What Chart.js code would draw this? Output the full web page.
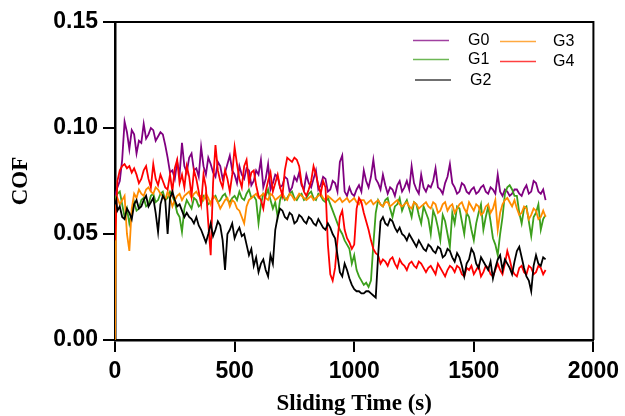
<!DOCTYPE html>
<html>
<head>
<meta charset="utf-8">
<script src="https://cdn.jsdelivr.net/npm/chart.js@4.4.1/dist/chart.umd.min.js"></script>
<style>
  html, body { margin: 0; padding: 0; background: #fff; }
  #c { display: block; }
</style>
</head>
<body>
<canvas id="c" width="625" height="416"></canvas>
<script>
const seriesNames = ['G0', 'G1', 'G2', 'G3', 'G4'];
const xTicks = [0, 500, 1000, 1500, 2000];
const yTicks = [0.00, 0.05, 0.10, 0.15];

const times = [0, 5,
  10, 20, 30, 40, 50, 60, 70, 80, 90, 100, 110, 120, 130, 140, 150, 160, 170, 180, 190, 200,
  210, 220, 230, 240, 250, 260, 270, 280, 290, 300, 310, 320, 330, 340, 350, 360, 370, 380, 390, 400,
  410, 420, 430, 440, 450, 460, 470, 480, 490, 500, 510, 520, 530, 540, 550, 560, 570, 580, 590, 600,
  610, 620, 630, 640, 650, 660, 670, 680, 690, 700, 710, 720, 730, 740, 750, 760, 770, 780, 790, 800,
  810, 820, 830, 840, 850, 860, 870, 880, 890, 900, 910, 920, 930, 940, 950, 960, 970, 980, 990, 1000,
  1010, 1020, 1030, 1040, 1050, 1060, 1070, 1080, 1090, 1100, 1110, 1120, 1130, 1140, 1150, 1160, 1170, 1180, 1190, 1200,
  1210, 1220, 1230, 1240, 1250, 1260, 1270, 1280, 1290, 1300, 1310, 1320, 1330, 1340, 1350, 1360, 1370, 1380, 1390, 1400,
  1410, 1420, 1430, 1440, 1450, 1460, 1470, 1480, 1490, 1500, 1510, 1520, 1530, 1540, 1550, 1560, 1570, 1580, 1590, 1600,
  1610, 1620, 1630, 1640, 1650, 1660, 1670, 1680, 1690, 1700, 1710, 1720, 1730, 1740, 1750, 1760, 1770, 1780, 1790, 1800];

const g0 = [0.066, 0.070,
  0.072, 0.075, 0.085, 0.103, 0.098, 0.090, 0.099, 0.097, 0.088, 0.094, 0.093, 0.102, 0.095, 0.097, 0.100, 0.099, 0.094, 0.096, 0.098, 0.097,
  0.092, 0.086, 0.079, 0.080, 0.076, 0.084, 0.078, 0.093, 0.082, 0.079, 0.086, 0.088, 0.080, 0.081, 0.077, 0.091, 0.082, 0.078, 0.086, 0.083,
  0.079, 0.077, 0.084, 0.082, 0.076, 0.079, 0.083, 0.087, 0.080, 0.078, 0.074, 0.082, 0.078, 0.076, 0.081, 0.080, 0.073, 0.075, 0.080, 0.078,
  0.085, 0.072, 0.076, 0.083, 0.071, 0.074, 0.078, 0.077, 0.072, 0.073, 0.077, 0.076, 0.070, 0.072, 0.077, 0.075, 0.079, 0.073, 0.071, 0.078,
  0.074, 0.072, 0.076, 0.080, 0.071, 0.073, 0.077, 0.076, 0.070, 0.071, 0.075, 0.074, 0.070, 0.084, 0.087, 0.070, 0.068, 0.072, 0.069, 0.068,
  0.071, 0.073, 0.070, 0.080, 0.075, 0.072, 0.077, 0.085, 0.076, 0.074, 0.071, 0.078, 0.073, 0.069, 0.072, 0.071, 0.068, 0.073, 0.075, 0.070,
  0.072, 0.075, 0.071, 0.082, 0.074, 0.071, 0.069, 0.078, 0.072, 0.070, 0.073, 0.072, 0.075, 0.081, 0.072, 0.071, 0.069, 0.074, 0.077, 0.083,
  0.074, 0.072, 0.069, 0.070, 0.074, 0.073, 0.070, 0.069, 0.071, 0.072, 0.069, 0.070, 0.072, 0.073, 0.070, 0.069, 0.072, 0.071, 0.069, 0.078,
  0.070, 0.068, 0.071, 0.070, 0.068, 0.069, 0.071, 0.071, 0.069, 0.068, 0.071, 0.073, 0.069, 0.070, 0.075, 0.074, 0.070, 0.069, 0.071, 0.066];

const g1 = [0.066, 0.068,
  0.069, 0.070, 0.064, 0.058, 0.062, 0.055, 0.060, 0.065, 0.061, 0.062, 0.066, 0.067, 0.063, 0.064, 0.068, 0.069, 0.065, 0.066, 0.069, 0.070,
  0.066, 0.067, 0.070, 0.068, 0.065, 0.060, 0.058, 0.051, 0.062, 0.066, 0.064, 0.062, 0.067, 0.066, 0.063, 0.064, 0.068, 0.067, 0.064, 0.065,
  0.067, 0.068, 0.065, 0.066, 0.068, 0.069, 0.066, 0.065, 0.067, 0.068, 0.066, 0.070, 0.067, 0.066, 0.069, 0.071, 0.067, 0.068, 0.066, 0.055,
  0.064, 0.069, 0.068, 0.071, 0.066, 0.062, 0.065, 0.058, 0.066, 0.069, 0.066, 0.067, 0.069, 0.070, 0.067, 0.066, 0.068, 0.069, 0.066, 0.067,
  0.069, 0.070, 0.067, 0.066, 0.069, 0.068, 0.066, 0.065, 0.067, 0.064, 0.061, 0.058, 0.055, 0.052, 0.050, 0.047, 0.045, 0.043, 0.036, 0.040,
  0.033, 0.030, 0.028, 0.026, 0.027, 0.025, 0.028, 0.045, 0.060, 0.066, 0.064, 0.063, 0.066, 0.067, 0.062, 0.058, 0.063, 0.064, 0.067, 0.061,
  0.064, 0.066, 0.062, 0.058, 0.065, 0.064, 0.059, 0.055, 0.063, 0.060, 0.057, 0.050, 0.061, 0.058, 0.053, 0.047, 0.059, 0.056, 0.050, 0.044,
  0.060, 0.055, 0.063, 0.062, 0.056, 0.050, 0.060, 0.058, 0.052, 0.047, 0.055, 0.060, 0.064, 0.052, 0.058, 0.063, 0.056, 0.048, 0.045, 0.040,
  0.050, 0.058, 0.069, 0.072, 0.073, 0.071, 0.068, 0.068, 0.060, 0.055, 0.062, 0.063, 0.056, 0.049, 0.058, 0.060, 0.064, 0.052, 0.057, 0.059];

const g2 = [0.064, 0.066,
  0.061, 0.063, 0.058, 0.057, 0.062, 0.060, 0.057, 0.064, 0.066, 0.062, 0.063, 0.066, 0.068, 0.063, 0.065, 0.067, 0.060, 0.051, 0.064, 0.068,
  0.066, 0.050, 0.067, 0.070, 0.066, 0.063, 0.064, 0.061, 0.058, 0.060, 0.058, 0.057, 0.055, 0.058, 0.054, 0.052, 0.049, 0.046, 0.050, 0.055,
  0.049, 0.052, 0.056, 0.054, 0.047, 0.033, 0.050, 0.052, 0.055, 0.048, 0.051, 0.053, 0.049, 0.050, 0.045, 0.040, 0.043, 0.035, 0.039, 0.032,
  0.036, 0.038, 0.033, 0.030, 0.040, 0.036, 0.052, 0.058, 0.062, 0.061, 0.058, 0.057, 0.060, 0.059, 0.055, 0.056, 0.059, 0.058, 0.056, 0.055,
  0.058, 0.057, 0.055, 0.054, 0.057, 0.055, 0.053, 0.052, 0.055, 0.053, 0.050, 0.048, 0.040, 0.032, 0.030, 0.036, 0.033, 0.029, 0.026, 0.024,
  0.023, 0.023, 0.022, 0.022, 0.023, 0.023, 0.022, 0.021, 0.020, 0.040, 0.056, 0.058, 0.055, 0.054, 0.057, 0.056, 0.053, 0.051, 0.053, 0.050,
  0.049, 0.047, 0.050, 0.048, 0.046, 0.044, 0.047, 0.045, 0.043, 0.042, 0.045, 0.044, 0.042, 0.041, 0.044, 0.043, 0.039, 0.040, 0.043, 0.042,
  0.039, 0.037, 0.041, 0.039, 0.035, 0.030, 0.036, 0.038, 0.043, 0.041, 0.036, 0.034, 0.039, 0.037, 0.035, 0.033, 0.037, 0.029, 0.034, 0.038,
  0.040, 0.033, 0.038, 0.036, 0.034, 0.031, 0.037, 0.042, 0.044, 0.039, 0.034, 0.030, 0.028, 0.023, 0.035, 0.040, 0.036, 0.035, 0.039, 0.038];

const g3 = [0.000, 0.066,
  0.067, 0.064, 0.066, 0.068, 0.050, 0.042, 0.062, 0.069, 0.067, 0.071, 0.069, 0.068, 0.071, 0.072, 0.070, 0.069, 0.072, 0.071, 0.069, 0.068,
  0.066, 0.070, 0.067, 0.063, 0.066, 0.068, 0.069, 0.066, 0.068, 0.069, 0.070, 0.067, 0.069, 0.070, 0.068, 0.068, 0.066, 0.069, 0.067, 0.064,
  0.068, 0.067, 0.065, 0.062, 0.064, 0.066, 0.067, 0.063, 0.066, 0.065, 0.062, 0.061, 0.058, 0.055, 0.063, 0.066, 0.067, 0.068, 0.069, 0.067,
  0.068, 0.069, 0.067, 0.066, 0.069, 0.068, 0.066, 0.067, 0.068, 0.069, 0.067, 0.066, 0.069, 0.068, 0.066, 0.067, 0.069, 0.068, 0.067, 0.066,
  0.067, 0.068, 0.066, 0.067, 0.068, 0.069, 0.067, 0.066, 0.068, 0.067, 0.066, 0.065, 0.066, 0.067, 0.065, 0.066, 0.067, 0.065, 0.066, 0.067,
  0.065, 0.064, 0.066, 0.066, 0.064, 0.065, 0.066, 0.064, 0.065, 0.066, 0.064, 0.063, 0.065, 0.065, 0.063, 0.064, 0.065, 0.066, 0.064, 0.063,
  0.064, 0.065, 0.063, 0.062, 0.065, 0.064, 0.062, 0.063, 0.064, 0.065, 0.063, 0.062, 0.065, 0.064, 0.060, 0.061, 0.064, 0.065, 0.061, 0.063,
  0.064, 0.060, 0.062, 0.064, 0.065, 0.062, 0.060, 0.065, 0.063, 0.061, 0.064, 0.063, 0.059, 0.060, 0.063, 0.064, 0.060, 0.062, 0.066, 0.052,
  0.060, 0.064, 0.066, 0.067, 0.065, 0.063, 0.066, 0.062, 0.059, 0.060, 0.063, 0.062, 0.057, 0.059, 0.062, 0.061, 0.057, 0.058, 0.061, 0.058];

const g4 = [0.047, 0.060,
  0.075, 0.080, 0.082, 0.083, 0.081, 0.082, 0.079, 0.081, 0.078, 0.074, 0.076, 0.080, 0.082, 0.076, 0.072, 0.083, 0.076, 0.073, 0.078, 0.075,
  0.072, 0.071, 0.078, 0.070, 0.081, 0.085, 0.074, 0.078, 0.072, 0.082, 0.077, 0.068, 0.080, 0.076, 0.070, 0.064, 0.078, 0.072, 0.055, 0.040,
  0.074, 0.092, 0.080, 0.075, 0.072, 0.080, 0.076, 0.070, 0.078, 0.091, 0.083, 0.076, 0.072, 0.082, 0.085, 0.074, 0.079, 0.080, 0.073, 0.068,
  0.066, 0.062, 0.070, 0.075, 0.079, 0.070, 0.074, 0.078, 0.072, 0.068, 0.080, 0.086, 0.085, 0.084, 0.086, 0.085, 0.082, 0.074, 0.070, 0.068,
  0.071, 0.075, 0.082, 0.078, 0.073, 0.069, 0.075, 0.072, 0.045, 0.031, 0.028, 0.034, 0.047, 0.058, 0.061, 0.052, 0.048, 0.046, 0.043, 0.045,
  0.062, 0.067, 0.065, 0.060, 0.056, 0.052, 0.047, 0.043, 0.041, 0.040, 0.036, 0.038, 0.037, 0.035, 0.038, 0.039, 0.036, 0.034, 0.038, 0.036,
  0.035, 0.033, 0.036, 0.037, 0.035, 0.034, 0.037, 0.036, 0.034, 0.032, 0.034, 0.035, 0.033, 0.031, 0.036, 0.034, 0.032, 0.030, 0.033, 0.035,
  0.034, 0.032, 0.035, 0.034, 0.031, 0.030, 0.034, 0.033, 0.035, 0.031, 0.033, 0.035, 0.030, 0.032, 0.035, 0.034, 0.031, 0.030, 0.033, 0.036,
  0.033, 0.031, 0.036, 0.042, 0.038, 0.033, 0.031, 0.030, 0.034, 0.035, 0.032, 0.031, 0.035, 0.034, 0.031, 0.032, 0.035, 0.034, 0.031, 0.033];

const seriesValues = [g0, g1, g2, g3, g4];
const colors = ['#800080', '#3c9f1c', '#000000', '#ff8c00', '#ff0000'];
const drawOrder = [5, 4, 1, 3, 2]; // lower = on top

const datasets = seriesNames.map((name, i) => ({
  label: name,
  data: times.map((t, j) => ({ x: t, y: seriesValues[i][j] })),
  borderColor: colors[i],
  backgroundColor: colors[i],
  borderWidth: 1.8,
  pointRadius: 0,
  tension: 0,
  fill: false,
  order: drawOrder[i]
}));

const frameAndLegend = {
  id: 'frameAndLegend',
  afterDraw(chart) {
    const { ctx, chartArea: a } = chart;
    ctx.save();
    ctx.strokeStyle = '#000';
    ctx.lineWidth = 2;
    ctx.beginPath();
    ctx.moveTo(a.left, a.top);
    ctx.lineTo(a.right, a.top);
    ctx.lineTo(a.right, a.bottom);
    ctx.stroke();

    const items = [
      { i: 0, x1: 413, x2: 449, ly: 40.5, tx: 468, ty: 41 },
      { i: 1, x1: 413, x2: 449, ly: 59.5, tx: 468, ty: 60 },
      { i: 2, x1: 415, x2: 451, ly: 80, tx: 470, ty: 80.5 },
      { i: 3, x1: 500, x2: 536, ly: 41.5, tx: 553, ty: 42 },
      { i: 4, x1: 500, x2: 536, ly: 61.5, tx: 553, ty: 62 }
    ];
    ctx.font = '16px "Liberation Sans", Arial, sans-serif';
    ctx.textBaseline = 'middle';
    ctx.textAlign = 'left';
    items.forEach(it => {
      ctx.strokeStyle = colors[it.i];
      ctx.globalAlpha = 0.75;
      ctx.lineWidth = 1.5;
      ctx.beginPath();
      ctx.moveTo(it.x1, it.ly);
      ctx.lineTo(it.x2, it.ly);
      ctx.stroke();
      ctx.globalAlpha = 1;
      ctx.fillStyle = '#000';
      ctx.fillText(seriesNames[it.i], it.tx, it.ty);
    });
    ctx.restore();
  }
};

new Chart(document.getElementById('c'), {
  type: 'line',
  data: { datasets },
  options: {
    responsive: false,
    devicePixelRatio: 1,
    animation: false,
    layout: { padding: { left: 0, right: 30, top: 22, bottom: 0 } },
    plugins: { legend: { display: false }, tooltip: { enabled: false } },
    scales: {
      x: {
        type: 'linear',
        min: 0, max: 2000,
        afterFit(s) { s.height = 76; },
        afterBuildTicks(s) { s.ticks = xTicks.map(v => ({ value: v })); },
        ticks: {
          color: '#000',
          padding: 6,
          maxRotation: 0,
          font: { family: '"Liberation Sans", Arial, sans-serif', size: 23, weight: 'bold' },
          callback: v => String(v)
        },
        grid: { drawOnChartArea: false, drawTicks: true, tickLength: 12, color: '#000', lineWidth: 2 },
        border: { display: true, color: '#000', width: 2.5 },
        title: {
          display: true,
          text: 'Sliding Time (s)',
          color: '#000',
          padding: { top: 0, bottom: 0 },
          font: { family: '"Liberation Serif", "Times New Roman", serif', size: 23, weight: 'bold', lineHeight: 1 }
        }
      },
      y: {
        min: 0, max: 0.15,
        afterFit(s) { s.width = 115; },
        afterBuildTicks(s) { s.ticks = yTicks.map(v => ({ value: v })); },
        ticks: {
          color: '#000',
          padding: 5,
          font: { family: '"Liberation Sans", Arial, sans-serif', size: 23, weight: 'bold' },
          callback: v => Number(v).toFixed(2)
        },
        grid: { drawOnChartArea: false, drawTicks: true, tickLength: 12, color: '#000', lineWidth: 2 },
        border: { display: true, color: '#000', width: 2.5 },
        title: {
          display: true,
          text: 'COF',
          color: '#000',
          padding: { top: 10, bottom: 0 },
          font: { family: '"Liberation Serif", "Times New Roman", serif', size: 23, weight: 'bold', lineHeight: 1 }
        }
      }
    }
  },
  plugins: [frameAndLegend]
});
</script>
</body>
</html>
